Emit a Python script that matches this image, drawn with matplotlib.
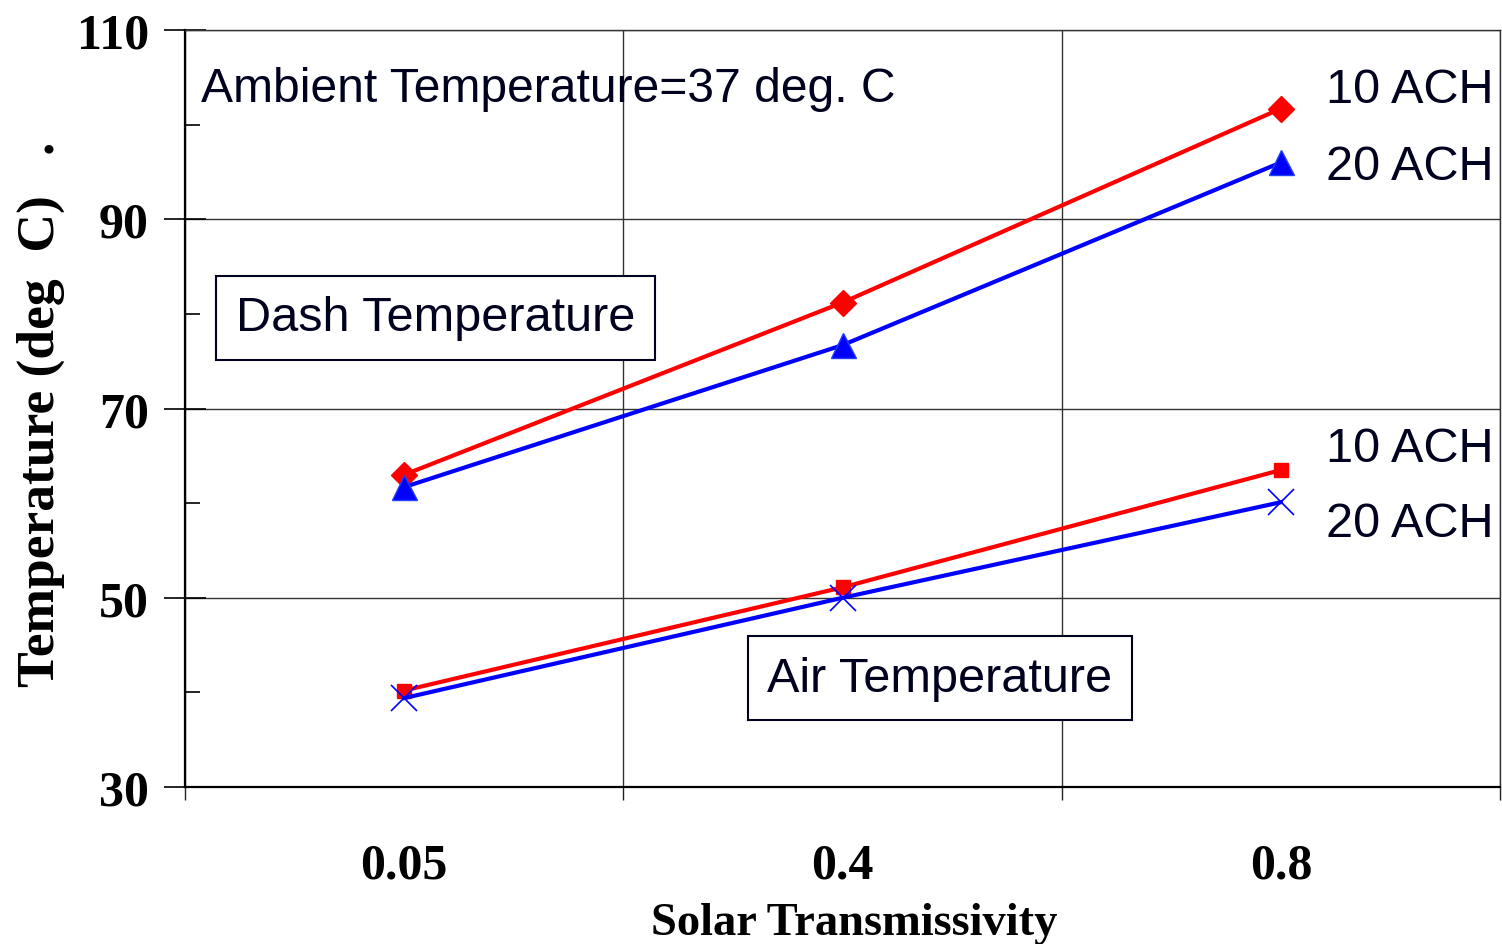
import matplotlib
matplotlib.use('Agg')
import matplotlib.pyplot as plt
from matplotlib.ticker import FixedLocator, NullFormatter

# transmissivity categories and temperatures (deg C)
categories = ['0.05', '0.4', '0.8']
dash_10ach = [63.0, 81.2, 101.7]
dash_20ach = [61.7, 76.7, 96.0]
air_10ach = [40.2, 51.1, 63.5]
air_20ach = [39.4, 50.0, 60.1]
y_major = [30, 50, 70, 90, 110]
y_minor = [40, 60, 80, 100]

serif = 'Liberation Serif'
sans = 'Liberation Sans'
text_color = '#00001f'

fig = plt.figure(figsize=(15.02, 9.45), dpi=100)
ax = fig.add_axes([0.1232, 0.1661, 0.8755, 0.8011])

xs = list(range(len(categories)))
ax.plot(xs, dash_10ach, color='#ff0000', lw=3, marker='D', ms=13, zorder=4)
ax.plot(xs, dash_20ach, color='#0000ff', lw=3, marker='^', ms=18,
        mec='#2040ff', zorder=4)
ax.plot(xs, air_10ach, color='#ff0000', lw=3, marker='s', ms=9.5, zorder=4)
ax.plot(xs, air_20ach, color='#0000ff', lw=3, marker='x', ms=19, mew=1.2,
        zorder=4)

ax.set_xlim(-0.5, len(categories) - 0.5)
ax.set_ylim(y_major[0], y_major[-1])

# category boundaries carry the grid, centres carry the labels
ax.xaxis.set_major_locator(FixedLocator([i - 0.5 for i in range(len(categories) + 1)]))
ax.xaxis.set_major_formatter(NullFormatter())
ax.xaxis.set_minor_locator(FixedLocator(xs))
ax.set_xticklabels(categories, minor=True)
ax.tick_params(axis='x', which='major', direction='out', length=9, width=1, color='#222222')
ax.tick_params(axis='x', which='minor', length=0, pad=40)

ax.yaxis.set_major_locator(FixedLocator(y_major))
ax.yaxis.set_minor_locator(FixedLocator(y_minor))
ax.tick_params(axis='y', which='major', direction='inout', length=30, width=1.2, pad=11)
ax.tick_params(axis='y', which='minor', direction='in', length=11, width=1.2)

for lbl in ax.get_yticklabels() + ax.get_xticklabels(minor=True):
    lbl.set_fontfamily(serif)
    lbl.set_fontweight('bold')
    lbl.set_fontsize(36)

ax.grid(True, which='major', color='#333333', lw=1)
ax.set_axisbelow(True)

for side in ['top', 'right']:
    ax.spines[side].set_linewidth(1)
    ax.spines[side].set_color('#333333')
for side in ['left', 'bottom']:
    ax.spines[side].set_linewidth(1.6)

ax.set_xlabel('Solar Transmissivity', fontfamily=serif, fontweight='bold',
              fontsize=33.5, labelpad=10)
ax.xaxis.label.set_x(0.509)
fig.text(0.027, 0.562, 'Temperature (deg  C)   .', rotation=90, ha='center',
         va='center', fontfamily=serif, fontweight='bold', fontsize=38.5)

ax.text(0.012, 0.923, 'Ambient Temperature=37 deg. C', transform=ax.transAxes,
        fontfamily=sans, fontsize=34.6, color=text_color, va='center')

box = dict(boxstyle='square,pad=0.4', fc='white', ec=text_color, lw=1.5)
ax.text(-0.384, 79.6, 'Dash Temperature', fontfamily=sans, fontsize=35,
        color=text_color, va='center', bbox=box, zorder=5)
ax.text(0.828, 41.5, 'Air Temperature', fontfamily=sans, fontsize=35,
        color=text_color, va='center', bbox=box, zorder=5)

for y, s in [(103.7, '10 ACH'), (95.6, '20 ACH'), (65.8, '10 ACH'), (57.8, '20 ACH')]:
    ax.text(0.995, y, s, transform=ax.get_yaxis_transform(), ha='right',
            va='center', fontfamily=sans, fontsize=35, color=text_color)

fig.savefig('out.png', dpi=100)
